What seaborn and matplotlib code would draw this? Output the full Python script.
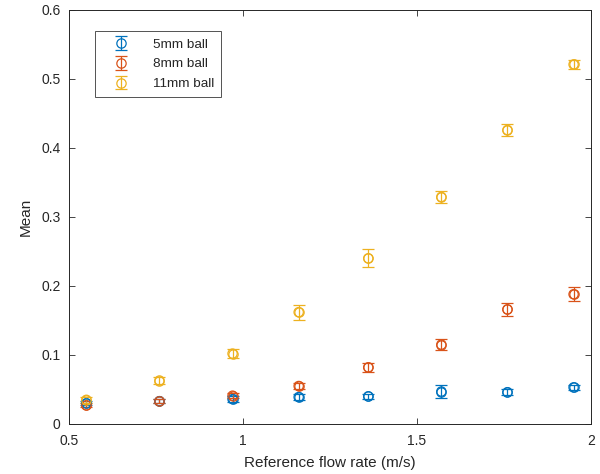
import numpy as np
import pandas as pd
import seaborn as sns
import matplotlib
matplotlib.use("Agg")
import matplotlib.pyplot as plt

# --- dati ---
flow = [0.55, 0.76, 0.97, 1.16, 1.36, 1.57, 1.76, 1.95]

mean_5mm = [0.030, 0.033, 0.036, 0.039, 0.040, 0.047, 0.046, 0.053]
err_5mm = [0.003, 0.003, 0.004, 0.004, 0.004, 0.009, 0.004, 0.004]

mean_8mm = [0.027, 0.033, 0.041, 0.055, 0.082, 0.115, 0.166, 0.188]
err_8mm = [0.003, 0.003, 0.004, 0.005, 0.006, 0.008, 0.009, 0.010]

mean_11mm = [0.035, 0.063, 0.102, 0.162, 0.240, 0.329, 0.426, 0.521]
err_11mm = [0.004, 0.005, 0.006, 0.011, 0.013, 0.009, 0.009, 0.007]

labels = ['5mm ball', '8mm ball', '11mm ball']
colors = ['#0072BD', '#D95319', '#EDB120']

df = pd.concat([
    pd.DataFrame({'flow': flow, 'mean': m, 'err': e, 'ball': lab})
    for m, e, lab in zip([mean_5mm, mean_8mm, mean_11mm],
                         [err_5mm, err_8mm, err_11mm], labels)
], ignore_index=True)

sns.set_style("ticks")
plt.rcParams['font.family'] = ['Liberation Sans', 'DejaVu Sans']

fig = plt.figure(figsize=(6, 4.74), dpi=100)
ax = fig.add_axes([0.115, 0.1055, 0.87, 0.8735])

# cerchi vuoti con seaborn
sns.scatterplot(data=df, x='flow', y='mean', hue='ball', palette=colors,
                marker='o', s=45, linewidth=0.9, legend=False, ax=ax)
ax.collections[0].set_facecolor('none')
ax.collections[0].set_edgecolor([colors[labels.index(b)] for b in df['ball']])

# barre d'errore
for lab, c in zip(labels, colors):
    sub = df[df['ball'] == lab]
    ax.errorbar(sub['flow'], sub['mean'], yerr=sub['err'], fmt='o',
                mfc='none', mec=c, ms=6.7, mew=0.9, color=c,
                elinewidth=0.9, capsize=4.5, capthick=0.9, label=lab)

ax.set_xlim(0.5, 2)
ax.set_ylim(0, 0.6)
ax.set_xticks([0.5, 1, 1.5, 2])
ax.set_xticklabels(['0.5', '1', '1.5', '2'])
ax.set_yticks(np.arange(0, 0.61, 0.1))
ax.set_yticklabels(['0', '0.1', '0.2', '0.3', '0.4', '0.5', '0.6'])
ax.tick_params(direction='in', length=4, width=0.6, top=True, right=True,
               labelsize=10, colors='#262626')
ax.tick_params(axis='x', pad=7)
ax.tick_params(axis='y', pad=6)
for s in ax.spines.values():
    s.set_linewidth(0.7)
    s.set_color('#262626')

ax.set_xlabel('Reference flow rate (m/s)', fontsize=11, color='#262626', labelpad=6)
ax.set_ylabel('Mean', fontsize=11, color='#262626', labelpad=6)

leg = ax.legend(loc='upper left', bbox_to_anchor=(0.05, 0.948), fontsize=9.7,
                frameon=True, fancybox=False, edgecolor='#262626',
                handlelength=2.8, handletextpad=1.0, borderpad=0.5,
                labelspacing=0.55, borderaxespad=0)
leg.get_frame().set_linewidth(0.7)

plt.savefig('out.png', dpi=100)
